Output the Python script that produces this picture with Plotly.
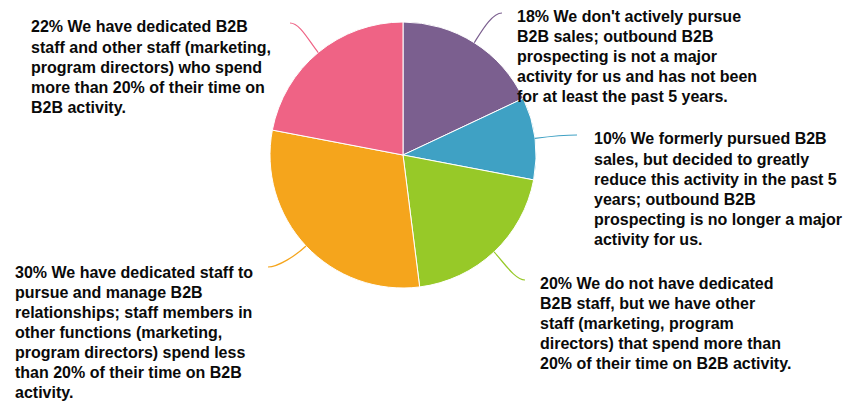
import math
import plotly.graph_objects as go

W, H = 847, 402

categories = ["Don't pursue", "Formerly pursued", "No dedicated staff", "Dedicated staff", "Dedicated + other staff"]
values = [18, 10, 20, 30, 22]
colors = ["#7b5f8f", "#3fa1c4", "#97c928", "#f5a51c", "#ef6385"]
label_lines = [
    ["18% We don't actively pursue", "B2B sales; outbound B2B", "prospecting is not a major",
     "activity for us and has not been", "for at least the past 5 years."],
    ["10% We formerly pursued B2B", "sales, but decided to greatly", "reduce this activity in the past 5",
     "years; outbound B2B", "prospecting is no longer a major", "activity for us."],
    ["20% We do not have dedicated", "B2B staff, but we have other", "staff (marketing, program",
     "directors) that spend more than", "20% of their time on B2B activity."],
    ["30% We have dedicated staff to", "pursue and manage B2B", "relationships; staff members in",
     "other functions (marketing,", "program directors) spend less", "than 20% of their time on B2B", "activity."],
    ["22% We have dedicated B2B", "staff and other staff (marketing,", "program directors) who spend",
     "more than 20% of their time on", "B2B activity."],
]

# layout (pixel) positions
cx, cy, R = 403, 155, 133
label_pos = [(516, 16), (593, 139), (539, 283), (14, 272), (30, 27)]   # left x, first line center y
line_end = [(502, 13), (577, 135), (525, 280), (268, 267), (290, 23)]
LINE_H = 20.1


def px(x):
    return x / W


def py(y):
    return 1 - y / H


fig = go.Figure()
fig.add_trace(go.Pie(
    labels=categories, values=values, sort=False, direction="clockwise", rotation=0,
    marker=dict(colors=colors, line=dict(color="white", width=1)),
    textinfo="none", hoverinfo="label+percent", showlegend=False,
    domain=dict(x=[px(cx - R), px(cx + R)], y=[py(cy + R), py(cy - R)]),
))

total = sum(values)
cum = 0
shapes = []
annotations = []
for i, v in enumerate(values):
    mid = (cum + v / 2) / total * 2 * math.pi
    cum += v
    sx, sy = cx + R * math.sin(mid), cy - R * math.cos(mid)
    c1x, c1y = cx + (R + 14) * math.sin(mid), cy - (R + 14) * math.cos(mid)
    ex, ey = line_end[i]
    side = 1 if ex > cx else -1
    c2x, c2y = ex - side * 10, ey
    path = (f"M {px(sx)} {py(sy)} C {px(c1x)} {py(c1y)} {px(c2x)} {py(c2y)} {px(ex)} {py(ey)}")
    shapes.append(dict(type="path", xref="paper", yref="paper", path=path,
                       line=dict(color=colors[i], width=1.2)))
    lx, ly = label_pos[i]
    for j, t in enumerate(label_lines[i]):
        annotations.append(dict(
            x=px(lx), y=py(ly + j * LINE_H), xref="paper", yref="paper",
            text=f"<b>{t}</b>", showarrow=False, xanchor="left", yanchor="middle",
            align="left", borderpad=0,
            font=dict(family="Liberation Sans, Arial, sans-serif", size=16, color="#0a0a0a"),
        ))

fig.update_layout(
    width=W, height=H, margin=dict(l=0, r=0, t=0, b=0),
    paper_bgcolor="white", plot_bgcolor="white",
    shapes=shapes, annotations=annotations,
)

fig.write_html("out.html", config={"displayModeBar": False},
               post_script="document.body.style.margin='0px';document.body.style.overflow='hidden';")
